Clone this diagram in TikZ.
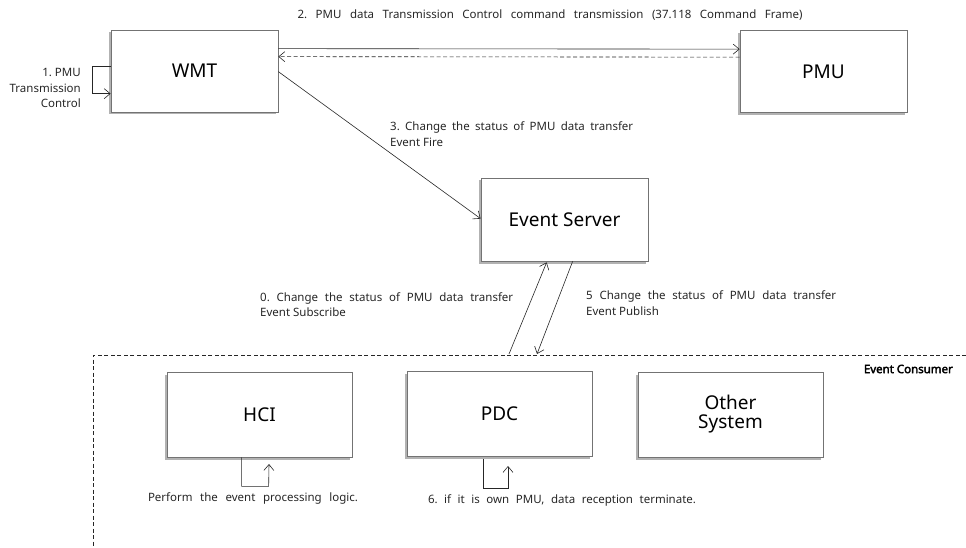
\documentclass[tikz,border=0pt]{standalone}
\usepackage{fontspec}
\setmainfont{Noto Sans}
\newfontfamily\ecfont{Noto Sans}[FakeBold=3]
\frenchspacing
\usetikzlibrary{arrows.meta,calc,shadows}
\begin{document}
\begin{tikzpicture}[x=1pt,y=-1pt,
  box/.style={draw=black!55,line width=0.7pt,fill=white,
    drop shadow={shadow xshift=-2pt,shadow yshift=-2.5pt,fill=black,opacity=0.3},
    font=\fontsize{19}{22}\selectfont,align=center,inner sep=0pt},
  topbox/.style={box,minimum width=167pt,minimum height=82pt},
  lowbox/.style={box,minimum width=185pt,minimum height=85pt},
  conn/.style={draw=black!85,line width=0.6pt},
  arr/.style={conn,-{Straight Barb[length=6pt,width=10pt,line width=0.6pt]}},
  lbl/.style={font=\fontsize{11.5}{15.5}\selectfont,inner sep=0pt,text=black!85},
  dashline/.style={draw=black!85,line width=0.6pt,dash pattern=on 4pt off 2.5pt}]
\useasboundingbox (0,0) rectangle (966,548);

% boxes
\node[topbox] (WMT) at (194.5,71) {WMT};
\node[topbox] (PMU) at (823.5,71.5) {PMU};
\node[topbox,minimum height=83pt] (ES) at (564.5,219.5) {Event Server};
\node[lowbox] (HCI) at (259.5,414.5) {HCI};
\node[lowbox] (PDC) at (499.5,414) {PDC};
\node[lowbox] (OS) at (730.5,414.5) {Other\\[-3pt]System};

% event consumer region
\coordinate (ecR) at (966,355);
\coordinate (ecC) at (93,355);
\coordinate (ecB) at (93,548);
\draw[dashline] (ecR) -- (ecC) -- (ecB);
\node[anchor=east,inner sep=0pt,text=black] (EC) at (953,369) {\fontsize{11.5}{14}\ecfont Event Consumer};

% WMT <-> PMU
\draw[arr] ($(WMT.north east)+(0,19)$) -- ($(PMU.north west)+(0,19)$);
\draw[dashline,-{Straight Barb[length=6pt,width=10pt,line width=0.6pt]}] ($(PMU.north west)+(0,27)$) -- ($(WMT.north east)+(0,27)$);
\node[lbl] (L2) at (550,15) {\makebox[505pt][s]{2. PMU data  Transmission  Control  command transmission  (37.118 Command  Frame)}};

% WMT self loop
\draw[arr] ($(WMT.north west)+(0,37)$) -- ++(-18,0) -- ++(0,27) -- ($(WMT.north west)+(0,64)$);
\node[lbl,anchor=east,align=right] (L1) at (81,88) {1. PMU\\Transmission\\Control};

% WMT -> Event Server
\draw[arr] ($(WMT.north east)+(0,42)$) -- ($(ES.north west)+(0,41)$);
\node[lbl,anchor=west,align=left] (L3) at (390,134) {\makebox[243pt][s]{3. Change the status of PMU data transfer}\\Event Fire};

% Event Server <-> consumers
\coordinate (s0) at (509,354);
\coordinate (e5) at (537,354);
\draw[arr] (s0) -- ($(ES.south west)+(66,1)$);
\draw[arr] ($(ES.south west)+(92,0)$) -- (e5);
\node[lbl,anchor=west,align=left] (L0) at (260,304.5) {\makebox[253pt][s]{0. Change the status of PMU data transfer}\\Event Subscribe};
\node[lbl,anchor=west,align=left] (L5) at (586,303) {\makebox[250pt][s]{5 Change the status of PMU data transfer}\\Event Publish};

% HCI self loop
\coordinate (h1) at (269,464);
\draw[arr] ($(HCI.south west)+(75,0)$) -- ++(0,29) -- ++(27,0) -- (h1);
\node[lbl] (LH) at (253,498) {\makebox[210pt][s]{Perform the event processing  logic.}};

% PDC self loop
\coordinate (p0) at (483,459);
\coordinate (p1) at (508,466);
\draw[arr] (p0) -- ++(0,29) -- ++(25,0) -- (p1);
\node[lbl] (LP) at (562,500) {\makebox[268pt][s]{6. if it is own PMU, data reception  terminate.}};
\end{tikzpicture}
\end{document}
